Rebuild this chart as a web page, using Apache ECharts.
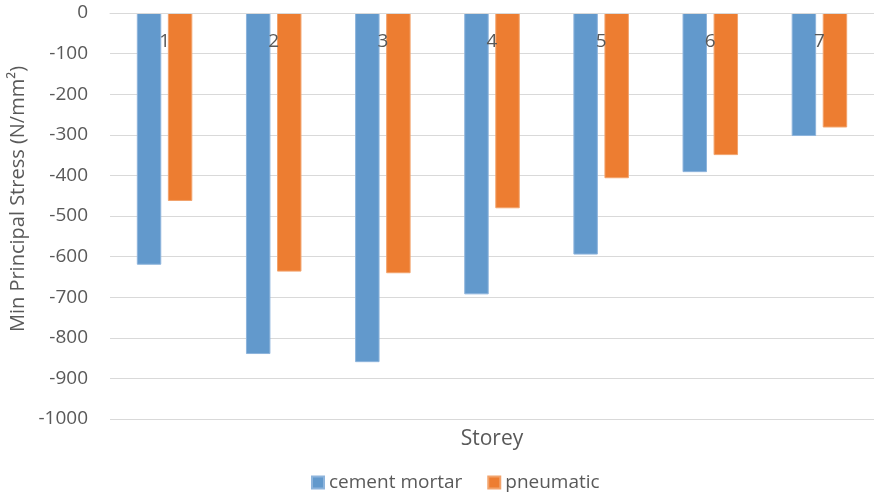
<!DOCTYPE html>
<html>
<head>
<meta charset="utf-8">
<script src="https://cdn.jsdelivr.net/npm/echarts@6/dist/echarts.min.js"></script>
<style>
  html, body { margin: 0; padding: 0; background: #fff; }
  #chart { width: 874px; height: 496px; }
</style>
</head>
<body>
<div id="chart"></div>
<script>
// Minimum principal stress per storey for two strengthening methods
const storeys = ['1', '2', '3', '4', '5', '6', '7'];
const cementMortar = [-620, -840, -860, -693, -595, -392, -303];
const pneumatic = [-463, -637, -641, -481, -407, -350, -282];
const yTicks = { min: -1000, max: 0, interval: 100 };

const FONT = '"Open Sans", "Noto Sans", sans-serif';
const GREY = '#595959';

const chart = echarts.init(document.getElementById('chart'), null, { renderer: 'canvas' });

chart.setOption({
  animation: false,
  textStyle: { fontFamily: FONT },
  grid: { left: 110, right: 0, top: 13, bottom: 77, containLabel: false },
  xAxis: {
    type: 'category',
    data: storeys,
    position: 'top',
    z: 10,
    axisLine: { show: true, lineStyle: { color: '#d9d9d9', width: 1 } },
    axisTick: { show: false },
    axisLabel: { inside: true, color: GREY, fontSize: 19, margin: 19, fontFamily: FONT },
    splitLine: { show: false }
  },
  yAxis: {
    type: 'value',
    min: yTicks.min,
    max: yTicks.max,
    interval: yTicks.interval,
    axisLine: { show: false },
    axisTick: { show: false },
    axisLabel: {
      color: GREY,
      fontSize: 19,
      margin: 22,
      fontFamily: FONT,
      formatter: (v) => String(v)
    },
    splitLine: { lineStyle: { color: '#d9d9d9', width: 1 } }
  },
  legend: {
    left: 311,
    top: 473,
    padding: 0,
    itemWidth: 12,
    itemHeight: 12,
    itemGap: 25,
    icon: 'rect',
    textStyle: { color: GREY, fontSize: 19, fontFamily: FONT },
    data: ['cement mortar', 'pneumatic']
  },
  graphic: [
    {
      type: 'text',
      x: 18,
      y: 199,
      rotation: Math.PI / 2,
      style: {
        text: 'Min Principal Stress (N/mm²)',
        fill: GREY,
        font: '20px ' + FONT,
        align: 'center',
        verticalAlign: 'middle'
      }
    },
    {
      type: 'text',
      x: 492,
      y: 439,
      style: {
        text: 'Storey',
        fill: GREY,
        font: '21px ' + FONT,
        align: 'center',
        verticalAlign: 'middle'
      }
    }
  ],
  series: [
    {
      name: 'cement mortar',
      type: 'bar',
      data: cementMortar,
      barWidth: '22.4%',
      barGap: '27%',
      itemStyle: { color: '#6299cc', borderColor: '#8db4dc', borderWidth: 1 }
    },
    {
      name: 'pneumatic',
      type: 'bar',
      data: pneumatic,
      barWidth: '22.4%',
      barGap: '27%',
      itemStyle: { color: '#ed7d31', borderColor: '#f2a36c', borderWidth: 1 }
    }
  ]
});
</script>
</body>
</html>
